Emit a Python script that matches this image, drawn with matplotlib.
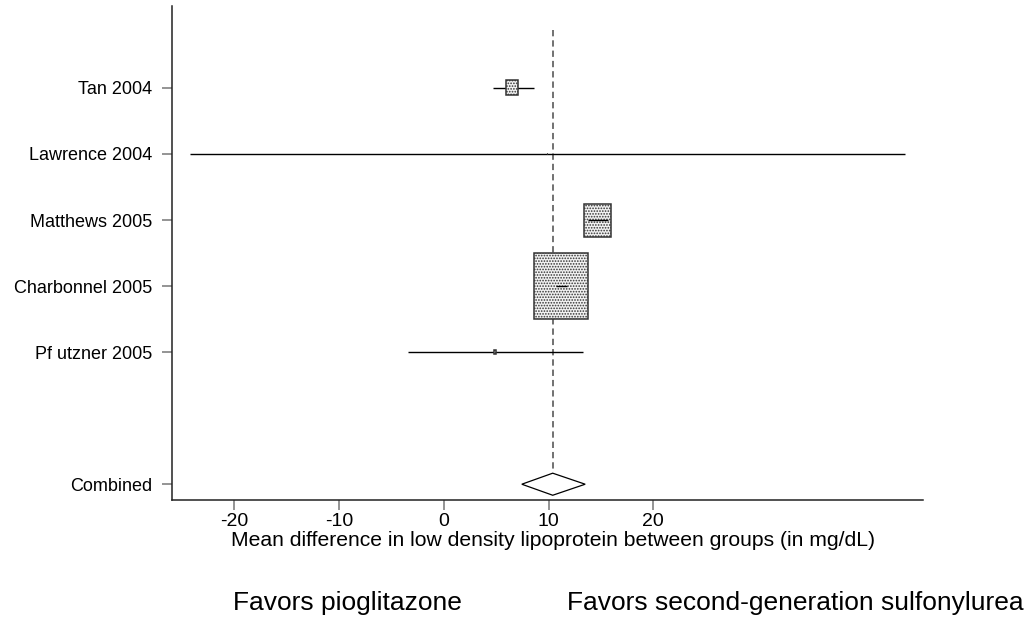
import numpy as np
import matplotlib
matplotlib.use("Agg")
import matplotlib.pyplot as plt
from matplotlib.patches import Rectangle, Polygon

plt.rcParams["font.family"] = ["Liberation Sans", "DejaVu Sans"]
plt.rcParams["hatch.color"] = "#9a9a9a"
plt.rcParams["hatch.linewidth"] = 0.8

# Study-level results (mean difference in LDL, mg/dL)
studies = ["Tan 2004", "Lawrence 2004", "Matthews 2005", "Charbonnel 2005", "Pf utzner 2005"]
means = [6.5, 9.9, 14.7, 11.2, 4.9]
ci_low = [4.7, -24.2, 13.8, 10.7, -3.4]
ci_high = [8.6, 44.0, 15.7, 11.8, 13.3]
weights = [4.0, 0.01, 19.5, 76.3, 0.2]   # percent

# Pooled estimate
combined_label = "Combined"
combined_mean = 10.4
combined_low = 7.45
combined_high = 13.5

x_ticks = [-20, -10, 0, 10, 20]

fig = plt.figure(figsize=(10.32, 6.33), dpi=100)
ax = fig.add_axes([0.167, 0.21, 0.727, 0.7805])

xmin, xmax = -25.9, 45.7
ymin, ymax = 7.24, -0.24
ax.set_xlim(xmin, xmax)
ax.set_ylim(ymin, ymax)

rows = list(range(1, len(studies) + 1))
comb_row = len(studies) + 2

# pixels per data unit, used to keep boxes the right shape
bbox = ax.get_position()
px_x = bbox.width * fig.get_figwidth() * fig.dpi / (xmax - xmin)
px_y = bbox.height * fig.get_figheight() * fig.dpi / abs(ymax - ymin)

for y, m, lo, hi, w in zip(rows, means, ci_low, ci_high, weights):
    bw = 0.584 * np.sqrt(w)
    bh = bw * px_x * 1.22 / px_y
    inside = (lo >= m - bw / 2) and (hi <= m + bw / 2)
    ax.plot([lo, hi], [y, y], color="black", lw=1.0, zorder=3 if inside else 1,
            solid_capstyle="butt")
    ax.add_patch(Rectangle((m - bw / 2, y - bh / 2), bw, bh, facecolor="#f2f2f2",
                           edgecolor="#333333", lw=1.1, hatch="......", zorder=2))

# pooled diamond
dh = 0.167
ax.add_patch(Polygon([[combined_low, comb_row], [combined_mean, comb_row - dh],
                      [combined_high, comb_row], [combined_mean, comb_row + dh]],
                     closed=True, facecolor="white", edgecolor="black", lw=0.9, zorder=3))

# line of the pooled effect
ax.plot([combined_mean, combined_mean], [0.12, comb_row - dh - 0.06], color="#666666",
        lw=1.3, ls=(0, (3.5, 2.2)), zorder=0)

ax.set_yticks(rows + [comb_row])
ax.set_yticklabels(studies + [combined_label], fontsize=13)
ax.set_xticks(x_ticks)
ax.set_xticklabels([str(t) for t in x_ticks], fontsize=14)

for s in ["top", "right"]:
    ax.spines[s].set_visible(False)
for s in ["left", "bottom"]:
    ax.spines[s].set_color("#222222")
    ax.spines[s].set_linewidth(1.1)
ax.tick_params(axis="both", direction="out", length=7.5, width=1.1, color="#777777")
ax.tick_params(axis="x", pad=2)
ax.tick_params(axis="y", pad=7)

fig.text(553 / 1032, 1 - 541 / 633,
         "Mean difference in low density lipoprotein between groups (in mg/dL)",
         ha="center", va="center", fontsize=15.2)
fig.text(233 / 1032, 1 - 603 / 633, "Favors pioglitazone", ha="left", va="center", fontsize=19)
fig.text(567 / 1032, 1 - 603 / 633, "Favors second-generation sulfonylurea",
         ha="left", va="center", fontsize=19)

fig.savefig("out.png", dpi=100)
